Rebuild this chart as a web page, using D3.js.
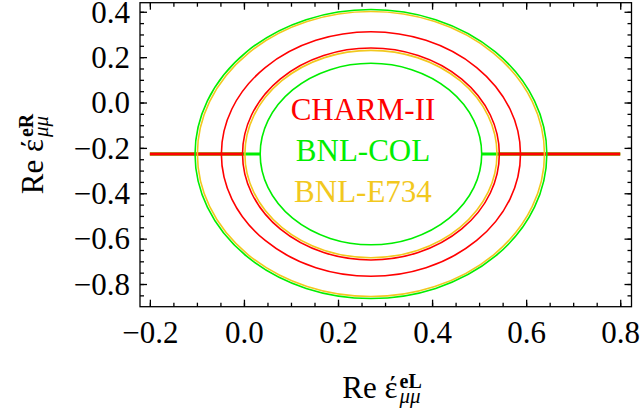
<!DOCTYPE html>
<html>
<head>
<meta charset="utf-8">
<script src="https://cdn.jsdelivr.net/npm/d3@7"></script>
<style>
  body { margin: 0; background: #fff; }
</style>
</head>
<body>
<svg id="chart" width="644" height="416"></svg>
<script>
// experiments and their colours
const experiments = ["CHARM-II", "BNL-COL", "BNL-E734"];
const colors = ["#ff0000", "#00ee00", "#f2c81e"];

// common centre of the allowed bands (Re eps_L, Re eps_R)
const centerL = 0.270;
const centerR = -0.227;

// outer / inner ellipse half axes of each band
const outerRx = [0.318, 0.374, 0.369];
const outerRy = [0.539, 0.637, 0.628];
const innerRx = [0.273, 0.2355, 0.268];
const innerRy = [0.467, 0.400, 0.457];

// the flat branch at eps_R = centre, from -0.2 to 0.8
const lineFrom = -0.2;
const lineTo = 0.8;

// ticks
const xMajor = [-0.2, 0.0, 0.2, 0.4, 0.6, 0.8];
const yMajor = [0.4, 0.2, 0.0, -0.2, -0.4, -0.6, -0.8];
const xMinor = d3.range(-0.2, 0.8001, 0.05);
const yMinor = d3.range(-0.85, 0.4001, 0.05);

const serif = "'Liberation Serif'";
const frame = {left: 140, right: 631.5, top: 2.7, bottom: 306.7};

const svg = d3.select("#chart");

const x = d3.scaleLinear().domain([-0.221, 0.824]).range([frame.left, frame.right]);
const y = d3.scaleLinear().domain([-0.9, 0.44]).range([frame.bottom, frame.top]);

const plot = svg.append("g");

// flat branch lines, red on top
[2, 1, 0].forEach(i => {
    let segs = [[lineFrom, centerL - innerRx[i]], [centerL + innerRx[i], lineTo]];
    plot.selectAll(null).data(segs).enter().append("line")
        .attr("x1", d => x(d[0]))
        .attr("x2", d => x(d[1]))
        .attr("y1", y(centerR))
        .attr("y2", y(centerR))
        .attr("stroke", colors[i])
        .attr("stroke-width", 3.2);
});

// ring boundaries (yellow first so green / red stay on the edge)
[2, 0, 1].forEach(i => {
    let rings = [[outerRx[i], outerRy[i]], [innerRx[i], innerRy[i]]];
    plot.selectAll(null).data(rings).enter().append("ellipse")
        .attr("cx", x(centerL))
        .attr("cy", y(centerR))
        .attr("rx", d => x(centerL + d[0]) - x(centerL))
        .attr("ry", d => y(centerR) - y(centerR + d[1]))
        .attr("fill", "none")
        .attr("stroke", colors[i])
        .attr("stroke-width", 1.6);
});

// frame
svg.append("rect")
    .attr("x", frame.left).attr("y", frame.top)
    .attr("width", frame.right - frame.left)
    .attr("height", frame.bottom - frame.top)
    .attr("fill", "none").attr("stroke", "#000").attr("stroke-width", 1.3);

// ticks on all four sides, pointing in
const fmt = d3.format(".1f");
function addAxis(axisFn, scale, pos, values, size, labels) {
    let g = svg.append("g").attr("transform", pos)
        .call(axisFn(scale).tickValues(values).tickSize(-size).tickSizeOuter(0)
            .tickPadding(9).tickFormat(labels ? fmt : ""));
    g.select(".domain").remove();
    g.attr("font-family", null).attr("font-size", null);
    g.selectAll("line").attr("stroke", "#000").attr("stroke-width", 1.3);
    g.selectAll("text").attr("fill", "#000")
        .style("font-family", serif).style("font-size", "31px");
    return g;
}
addAxis(d3.axisBottom, x, `translate(0,${frame.bottom})`, xMinor, 4, false);
let xAx = addAxis(d3.axisBottom, x, `translate(0,${frame.bottom})`, xMajor, 7, true);
addAxis(d3.axisTop, x, `translate(0,${frame.top})`, xMinor, 4, false);
addAxis(d3.axisTop, x, `translate(0,${frame.top})`, xMajor, 7, false);
addAxis(d3.axisLeft, y, `translate(${frame.left},0)`, yMinor, 4, false);
let yAx = addAxis(d3.axisLeft, y, `translate(${frame.left},0)`, yMajor, 7, true);
addAxis(d3.axisRight, y, `translate(${frame.right},0)`, yMinor, 4, false);
addAxis(d3.axisRight, y, `translate(${frame.right},0)`, yMajor, 7, false);
yAx.selectAll("text").attr("x", -10).attr("dy", "0.33em");
xAx.selectAll("text").attr("y", 10).attr("dy", "0.85em");

// legend text inside the rings
const legendY = [120, 161, 202];
svg.selectAll(null).data(experiments).enter().append("text")
    .attr("x", 363)
    .attr("y", (d, i) => legendY[i])
    .attr("text-anchor", "middle")
    .attr("fill", (d, i) => colors[i])
    .style("font-family", serif)
    .style("font-size", "31px")
    .text(d => d);

// axis labels: Re eps with stacked super/subscript
function axisLabel(g, sup) {
    let main = g.append("text").style("font-family", serif).style("font-size", "31px")
        .text("Re \u03B5\u0301");
    let w = main.node().getComputedTextLength();
    let s1 = g.append("text").attr("x", w + 2).attr("y", -10).style("font-family", serif)
        .style("font-size", "20px").style("font-weight", "bold").text(sup);
    let s2 = g.append("text").attr("x", w + 2).attr("y", 5).style("font-family", serif)
        .style("font-size", "21px").style("font-style", "italic").text("\u03BC\u03BC");
    let total = w + 2 + Math.max(s1.node().getComputedTextLength(), s2.node().getComputedTextLength());
    g.selectAll("text").attr("transform", `translate(${-total / 2},0)`);
}
axisLabel(svg.append("g").attr("transform", "translate(382,398)"), "eL");
axisLabel(svg.append("g").attr("transform", "translate(43,154) rotate(-90)"), "eR");
</script>
</body>
</html>
